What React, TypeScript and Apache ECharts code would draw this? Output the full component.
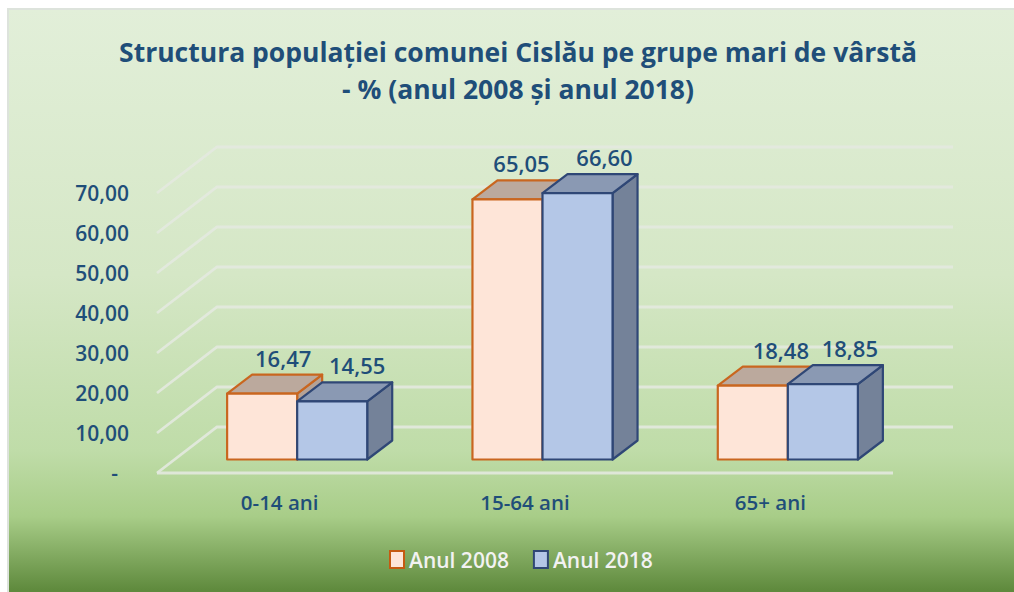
import React, { useEffect, useRef } from "react";
import * as echarts from "echarts";

const categories = ["0-14 ani", "15-64 ani", "65+ ani"];
const series2008 = [16.47, 65.05, 18.48];
const series2018 = [14.55, 66.6, 18.85];
const yTicks = [0, 10, 20, 30, 40, 50, 60, 70];
const seriesNames = ["Anul 2008", "Anul 2018"];
const titleText = "Structura populației comunei Cislău pe grupe mari de vârstă\n- % (anul 2008 și anul 2018)";
const labelNudge2008 = [21, 14, 28];
const labelNudge2018 = [25, 27, 27];

const FONT = "'Open Sans', 'Noto Sans', sans-serif";
const TEXT = "#1F4E79";
const DEPTH_X = 60;
const DEPTH_Y = 46;
const BAR_DX = 25;
const BAR_DY = 19;
const OFF_X = 17.5;
const OFF_Y = 13.5;
const fmt = (v: number) => v.toFixed(2).replace(".", ",");

function barRender(side: number, front: string, stroke: string, top: string, right: string, nudges: number[]) {
  return (params: any, api: any) => {
    const idx = api.value(0);
    const val = api.value(1);
    const w = api.size([1, 0])[0] * 0.2855;
    const base = api.coord([idx, 0]);
    const head = api.coord([idx, val]);
    const x0 = base[0] + OFF_X + (side === 0 ? -w : 0);
    const x1 = x0 + w;
    const yb = base[1] - OFF_Y;
    const yt = head[1] - OFF_Y;
    const ls = { stroke, lineWidth: 2.2, lineJoin: "round" };
    return {
      type: "group",
      children: [
        { type: "polygon", shape: { points: [[x1, yt], [x1 + BAR_DX, yt - BAR_DY], [x1 + BAR_DX, yb - BAR_DY], [x1, yb]] }, style: { fill: right, ...ls } },
        { type: "polygon", shape: { points: [[x0, yt], [x0 + BAR_DX, yt - BAR_DY], [x1 + BAR_DX, yt - BAR_DY], [x1, yt]] }, style: { fill: top, ...ls } },
        { type: "rect", shape: { x: x0, y: yt, width: w, height: yb - yt }, style: { fill: front, ...ls } },
        {
          type: "text",
          x: (x0 + x1) / 2 + nudges[idx],
          y: yt - BAR_DY - 17,
          style: { text: fmt(val), fill: TEXT, font: `600 22px ${FONT}`, align: "center", verticalAlign: "middle" },
        },
      ],
    };
  };
}

function wallRender(params: any, api: any) {
  const val = api.value(0);
  const r = params.coordSys;
  const y = api.coord([0, val])[1];
  const pts = [[r.x, y], [r.x + DEPTH_X, y - DEPTH_Y], [r.x + r.width + DEPTH_X, y - DEPTH_Y]];
  const style = { stroke: "#E3E9DF", lineWidth: 2.8, fill: "none", opacity: 0.9 };
  const children: any[] = [{ type: "polyline", shape: { points: pts }, style }];
  if (val === 0) {
    children.push({ type: "line", shape: { x1: r.x, y1: y, x2: r.x + r.width, y2: y }, style });
  }
  return { type: "group", children };
}

export default function App() {
  const ref = useRef<HTMLDivElement>(null);
  useEffect(() => {
    const chart = echarts.init(ref.current!, undefined, { renderer: "svg" });
    chart.setOption({
      animation: false,
      backgroundColor: "#ffffff",
      graphic: [
        {
          type: "rect",
          z: -10,
          silent: true,
          shape: { x: 8, y: 9, width: 1012, height: 590 },
          style: {
            stroke: "#DDE3DC",
            lineWidth: 2,
            fill: {
              type: "linear",
              x: 0,
              y: 0,
              x2: 0,
              y2: 1,
              colorStops: [
                { offset: 0, color: "#E2EFD9" },
                { offset: 0.45, color: "#D5E7C6" },
                { offset: 0.75, color: "#BFDCA8" },
                { offset: 0.86, color: "#A8CD88" },
                { offset: 0.985, color: "#5F8A3D" },
                { offset: 1, color: "#5F8A3D" },
              ],
            },
          },
        },
      ],
      title: {
        text: titleText,
        left: 513,
        top: 28,
        textAlign: "center",
        textStyle: { fontFamily: FONT, fontSize: 26.5, fontWeight: 700, color: TEXT, lineHeight: 37 },
      },
      legend: {
        data: seriesNames,
        left: 384,
        top: 544,
        itemWidth: 14,
        itemHeight: 17,
        itemGap: 24,
        icon: "rect",
        selectedMode: false,
        textStyle: { fontFamily: FONT, fontSize: 21, fontWeight: 600, color: "#F2F2F2", padding: [0, 0, 0, 0] },
      },
      grid: { left: 157, top: 193, width: 736, height: 280, containLabel: false },
      xAxis: {
        type: "category",
        data: categories,
        axisLine: { show: false },
        axisTick: { show: false },
        axisLabel: { margin: 18, fontFamily: FONT, fontSize: 20.5, fontWeight: 600, color: TEXT },
      },
      yAxis: {
        type: "value",
        min: 0,
        max: 70,
        interval: 10,
        splitLine: { show: false },
        axisLine: { show: false },
        axisTick: { show: false },
        axisLabel: {
          margin: 28,
          fontFamily: FONT,
          fontSize: 21,
          fontWeight: 600,
          color: TEXT,
          formatter: (v: number) => (v === 0 ? "-  " : fmt(v)),
        },
      },
      series: [
        {
          type: "custom",
          name: "walls",
          silent: true,
          z: 1,
          renderItem: wallRender,
          data: yTicks.map((t) => [t]),
          encode: { y: 0 },
          clip: false,
        },
        {
          type: "custom",
          name: seriesNames[0],
          z: 2,
          renderItem: barRender(0, "#FEE5D8", "#C9661F", "#BBA99D", "#B5A296", labelNudge2008),
          data: categories.map((_, i) => [i, series2008[i]]),
          encode: { x: 0, y: 1 },
          itemStyle: { color: "#FEE5D8", borderColor: "#C55A11", borderWidth: 2.5 },
          clip: false,
        },
        {
          type: "custom",
          name: seriesNames[1],
          z: 3,
          renderItem: barRender(1, "#B4C7E7", "#2F4776", "#8A99B3", "#748299", labelNudge2018),
          data: categories.map((_, i) => [i, series2018[i]]),
          encode: { x: 0, y: 1 },
          itemStyle: { color: "#B4C7E7", borderColor: "#2F4776", borderWidth: 2.5 },
          clip: false,
        },
      ],
    });
    return () => chart.dispose();
  }, []);
  return <div ref={ref} style={{ position: "fixed", left: 0, top: 0, width: 1014, height: 592 }} />;
}
